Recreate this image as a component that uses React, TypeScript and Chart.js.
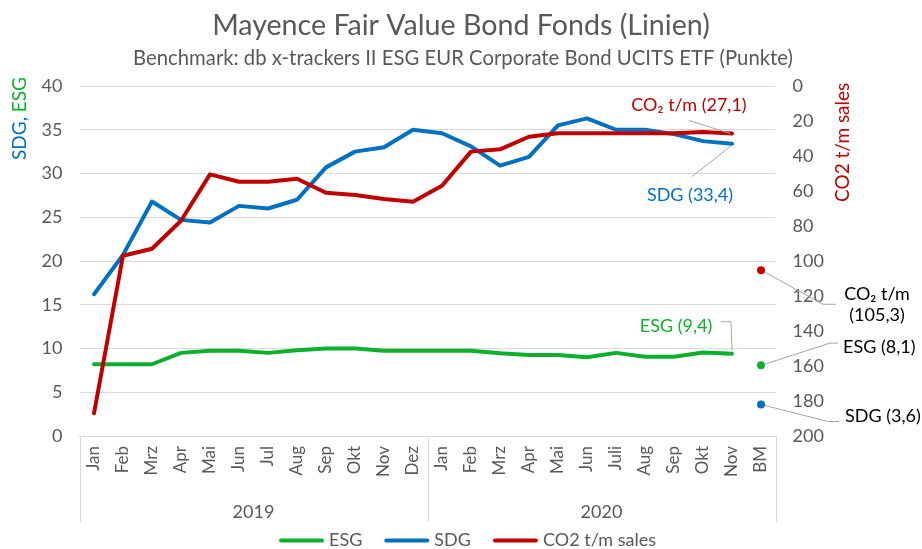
import React, { useEffect, useRef } from 'react';
import { Chart, registerables } from 'chart.js';

Chart.register(...registerables);

// ---------- data ----------
const months = ['Jan', 'Feb', 'Mrz', 'Apr', 'Mai', 'Jun', 'Jul', 'Aug', 'Sep', 'Okt', 'Nov', 'Dez',
  'Jan', 'Feb', 'Mrz', 'Apr', 'Mai', 'Jun', 'Juli', 'Aug', 'Sep', 'Okt', 'Nov', 'BM'];
const yearLabels = ['2019', '2020'];
const yearSpans = [12, 12];

const esg = [8.2, 8.2, 8.2, 9.5, 9.75, 9.75, 9.5, 9.8, 10.0, 10.0, 9.75, 9.75,
  9.75, 9.75, 9.45, 9.25, 9.25, 9.0, 9.5, 9.05, 9.05, 9.55, 9.4, null];
const sdg = [16.2, 20.7, 26.8, 24.7, 24.4, 26.3, 26.0, 27.0, 30.7, 32.5, 33.0, 35.0,
  34.6, 33.1, 30.9, 31.9, 35.5, 36.3, 35.0, 35.0, 34.5, 33.7, 33.4, null];
const co2 = [187, 97, 93, 77, 50.5, 54.7, 54.7, 53, 61, 62.3, 64.6, 66.1,
  57, 37.5, 36.2, 29, 27, 27, 27, 27, 27, 26.3, 27.1, null];

const bmEsg = 8.1;
const bmSdg = 3.6;
const bmCo2 = 105.3;

const leftMin = 0, leftMax = 40, leftStep = 5;
const rightMin = 0, rightMax = 200, rightStep = 20;

const titleText = 'Mayence Fair Value Bond Fonds (Linien)';
const subtitleText = 'Benchmark: db x-trackers II ESG EUR Corporate Bond UCITS ETF (Punkte)';
const seriesNames = ['ESG', 'SDG', 'CO2 t/m sales'];

// ---------- style ----------
const GREEN = '#0DB02B';
const BLUE = '#0070C0';
const RED = '#C00000';
const GRAY = '#595959';
const GRID = '#D9D9D9';
const LEADER = '#A6A6A6';
const FONT = 'Lato, "Open Sans", sans-serif';

const fmt = (v: number) => v.toFixed(1).replace('.', ',');
const bmOnly = (v: number) => months.map((_, i) => (i === months.length - 1 ? v : null));

function fitFont(ctx: CanvasRenderingContext2D, text: string, width: number, base: number) {
  ctx.font = `${base}px ${FONT}`;
  const w = ctx.measureText(text).width;
  return (base * width) / w;
}

const decorPlugin = {
  id: 'decor',
  afterDraw(chart: any) {
    const { ctx, chartArea, scales } = chart;
    const xs = scales.x;
    const W = chart.width;
    ctx.save();

    // title + subtitle
    ctx.fillStyle = GRAY;
    ctx.textAlign = 'center';
    ctx.textBaseline = 'alphabetic';
    let fs = fitFont(ctx, titleText, 498, 28);
    ctx.font = `${fs}px ${FONT}`;
    ctx.fillText(titleText, W / 2, 35);
    fs = fitFont(ctx, subtitleText, 660, 19);
    ctx.font = `${fs}px ${FONT}`;
    ctx.fillText(subtitleText, W / 2 + 2, 65);

    // left axis title (two colours)
    ctx.save();
    ctx.font = `19px ${FONT}`;
    ctx.translate(26, 160);
    ctx.rotate(-Math.PI / 2);
    ctx.textAlign = 'left';
    ctx.textBaseline = 'alphabetic';
    ctx.fillStyle = BLUE;
    const part1 = 'SDG, ';
    ctx.fillText(part1, 0, 0);
    ctx.fillStyle = GREEN;
    ctx.fillText('ESG', ctx.measureText(part1).width, 0);
    ctx.restore();

    // right axis title
    ctx.save();
    ctx.font = `19px ${FONT}`;
    ctx.translate(849, 202);
    ctx.rotate(-Math.PI / 2);
    ctx.textAlign = 'left';
    ctx.fillStyle = RED;
    ctx.fillText('CO2 t/m sales', 0, 0);
    ctx.restore();

    // multi-level x axis: separators & years
    const step = xs.getPixelForValue(1) - xs.getPixelForValue(0);
    ctx.strokeStyle = GRID;
    ctx.lineWidth = 1;
    let start = 0;
    const bottomY = chartArea.bottom + 86;
    ctx.font = `18px ${FONT}`;
    ctx.fillStyle = GRAY;
    ctx.textAlign = 'center';
    ctx.textBaseline = 'middle';
    const edges: number[] = [];
    yearLabels.forEach((lab, gi) => {
      const l = xs.getPixelForValue(start) - step / 2;
      const r = xs.getPixelForValue(start + yearSpans[gi] - 1) + step / 2;
      edges.push(l, r);
      ctx.fillText(lab, (l + r) / 2, chartArea.bottom + 76);
      start += yearSpans[gi];
    });
    const uniq = Array.from(new Set(edges.map((e) => Math.round(e) + 0.5)));
    uniq.forEach((e) => {
      ctx.beginPath();
      ctx.moveTo(e, chartArea.bottom);
      ctx.lineTo(e, bottomY);
      ctx.stroke();
    });

    // annotations
    const last = months.length - 2;
    const bm = months.length - 1;
    const pEsg = chart.getDatasetMeta(0).data[last];
    const pSdg = chart.getDatasetMeta(1).data[last];
    const pCo2 = chart.getDatasetMeta(2).data[last];
    const bEsg = chart.getDatasetMeta(3).data[bm];
    const bSdg = chart.getDatasetMeta(4).data[bm];
    const bCo2 = chart.getDatasetMeta(5).data[bm];

    const leader = (pts: number[][]) => {
      ctx.strokeStyle = LEADER;
      ctx.lineWidth = 1;
      ctx.beginPath();
      pts.forEach((p, i) => (i ? ctx.lineTo(p[0], p[1]) : ctx.moveTo(p[0], p[1])));
      ctx.stroke();
    };
    const label = (txt: string, x: number, y: number, color: string, align: CanvasTextAlign) => {
      ctx.font = `18px ${FONT}`;
      ctx.fillStyle = color;
      ctx.textAlign = align;
      ctx.textBaseline = 'middle';
      ctx.fillText(txt, x, y);
    };

    leader([[pCo2.x - 43, pCo2.y - 13], [pCo2.x - 2, pCo2.y]]);
    label(`CO₂ t/m (${fmt(co2[last] as number)})`, pCo2.x - 43, pCo2.y - 28, RED, 'center');

    leader([[pSdg.x - 40, pSdg.y + 33], [pSdg.x - 1, pSdg.y + 2]]);
    label(`SDG (${fmt(sdg[last] as number)})`, pSdg.x - 42, pSdg.y + 51, BLUE, 'center');

    leader([[pEsg.x - 11, pEsg.y - 32], [pEsg.x - 1, pEsg.y - 32], [pEsg.x, pEsg.y - 3]]);
    label(`ESG (${fmt(esg[last] as number)})`, pEsg.x - 56, pEsg.y - 28, GREEN, 'center');

    leader([[bCo2.x + 4, bCo2.y + 2], [bCo2.x + 62, bCo2.y + 34], [bCo2.x + 75, bCo2.y + 34]]);
    label('CO₂ t/m', bCo2.x + 116, bCo2.y + 24, '#000000', 'center');
    label(`(${fmt(bmCo2)})`, bCo2.x + 116, bCo2.y + 45, '#000000', 'center');

    leader([[bEsg.x + 4, bEsg.y - 1], [bEsg.x + 69, bEsg.y - 22], [bEsg.x + 77, bEsg.y - 22]]);
    label(`ESG (${fmt(bmEsg)})`, bEsg.x + 82, bEsg.y - 18, '#000000', 'left');

    leader([[bSdg.x + 4, bSdg.y + 1], [bSdg.x + 67, bSdg.y + 17], [bSdg.x + 78, bSdg.y + 17]]);
    label(`SDG (${fmt(bmSdg)})`, bSdg.x + 84, bSdg.y + 12, '#000000', 'left');

    // legend
    const colors = [GREEN, BLUE, RED];
    ctx.font = `18px ${FONT}`;
    const lineLen = 45, gapText = 5, gapItem = 22;
    const widths = seriesNames.map((n) => lineLen + gapText + ctx.measureText(n).width);
    const total = widths.reduce((a, b) => a + b, 0) + gapItem * (seriesNames.length - 1);
    let lx = 467.5 - total / 2;
    const ly = 540.5;
    seriesNames.forEach((n, i) => {
      ctx.strokeStyle = colors[i];
      ctx.lineWidth = 4;
      ctx.lineCap = 'round';
      ctx.beginPath();
      ctx.moveTo(lx + 2, ly);
      ctx.lineTo(lx + lineLen - 2, ly);
      ctx.stroke();
      ctx.fillStyle = GRAY;
      ctx.textAlign = 'left';
      ctx.textBaseline = 'middle';
      ctx.fillText(n, lx + lineLen + gapText, ly);
      lx += widths[i] + gapItem;
    });

    ctx.restore();
  },
};

export default function App() {
  const canvasRef = useRef<HTMLCanvasElement>(null);

  useEffect(() => {
    if (!canvasRef.current) return;
    const lineBase = {
      borderWidth: 4,
      pointRadius: 0,
      pointHoverRadius: 0,
      tension: 0,
      borderCapStyle: 'round' as const,
      borderJoinStyle: 'round' as const,
      spanGaps: false,
      fill: false,
    };
    const pointBase = {
      showLine: false,
      pointRadius: 4,
      pointBorderWidth: 0,
      borderWidth: 0,
    };
    const chart = new Chart(canvasRef.current, {
      type: 'line',
      data: {
        labels: months,
        datasets: [
          { ...lineBase, label: seriesNames[0], data: esg, borderColor: GREEN, backgroundColor: GREEN, yAxisID: 'y', order: 2 },
          { ...lineBase, label: seriesNames[1], data: sdg, borderColor: BLUE, backgroundColor: BLUE, yAxisID: 'y', order: 1 },
          { ...lineBase, label: seriesNames[2], data: co2, borderColor: RED, backgroundColor: RED, yAxisID: 'y1', order: 0 },
          { ...pointBase, label: 'BM ESG', data: bmOnly(bmEsg), borderColor: GREEN, backgroundColor: GREEN, pointBackgroundColor: GREEN, yAxisID: 'y', order: 0 },
          { ...pointBase, label: 'BM SDG', data: bmOnly(bmSdg), borderColor: BLUE, backgroundColor: BLUE, pointBackgroundColor: BLUE, yAxisID: 'y', order: 0 },
          { ...pointBase, label: 'BM CO2', data: bmOnly(bmCo2), borderColor: RED, backgroundColor: RED, pointBackgroundColor: RED, yAxisID: 'y1', order: 0 },
        ] as any,
      },
      options: {
        animation: false,
        responsive: true,
        maintainAspectRatio: false,
        layout: { padding: { top: 86, left: 0, right: 0, bottom: 0 } },
        plugins: {
          legend: { display: false },
          tooltip: { enabled: false },
          title: { display: false },
        },
        scales: {
          x: {
            type: 'category',
            offset: true,
            grid: { display: false, drawTicks: false, offset: true },
            border: { display: true, color: GRID, width: 1 },
            ticks: {
              autoSkip: false,
              minRotation: 90,
              maxRotation: 90,
              padding: 10,
              color: GRAY,
              font: { family: FONT, size: 17 },
            },
            afterFit: (s: any) => { s.height = 113; },
          },
          y: {
            position: 'left',
            min: leftMin,
            max: leftMax,
            ticks: { stepSize: leftStep, padding: 17, color: GRAY, font: { family: FONT, size: 18 } },
            grid: { color: GRID, lineWidth: 1, drawTicks: false },
            border: { display: false },
            afterFit: (s: any) => { s.width = 79.5; },
          },
          y1: {
            position: 'right',
            reverse: true,
            min: rightMin,
            max: rightMax,
            ticks: { stepSize: rightStep, padding: 17, color: GRAY, font: { family: FONT, size: 18 } },
            grid: { drawOnChartArea: false, drawTicks: false },
            border: { display: false },
            afterFit: (s: any) => { s.width = 146.5; },
          },
        },
      } as any,
      plugins: [decorPlugin],
    });
    return () => chart.destroy();
  }, []);

  return (
    <div style={{ position: 'fixed', left: 0, top: 0, width: 922, height: 549, background: '#fff' }}>
      <canvas ref={canvasRef} />
    </div>
  );
}
